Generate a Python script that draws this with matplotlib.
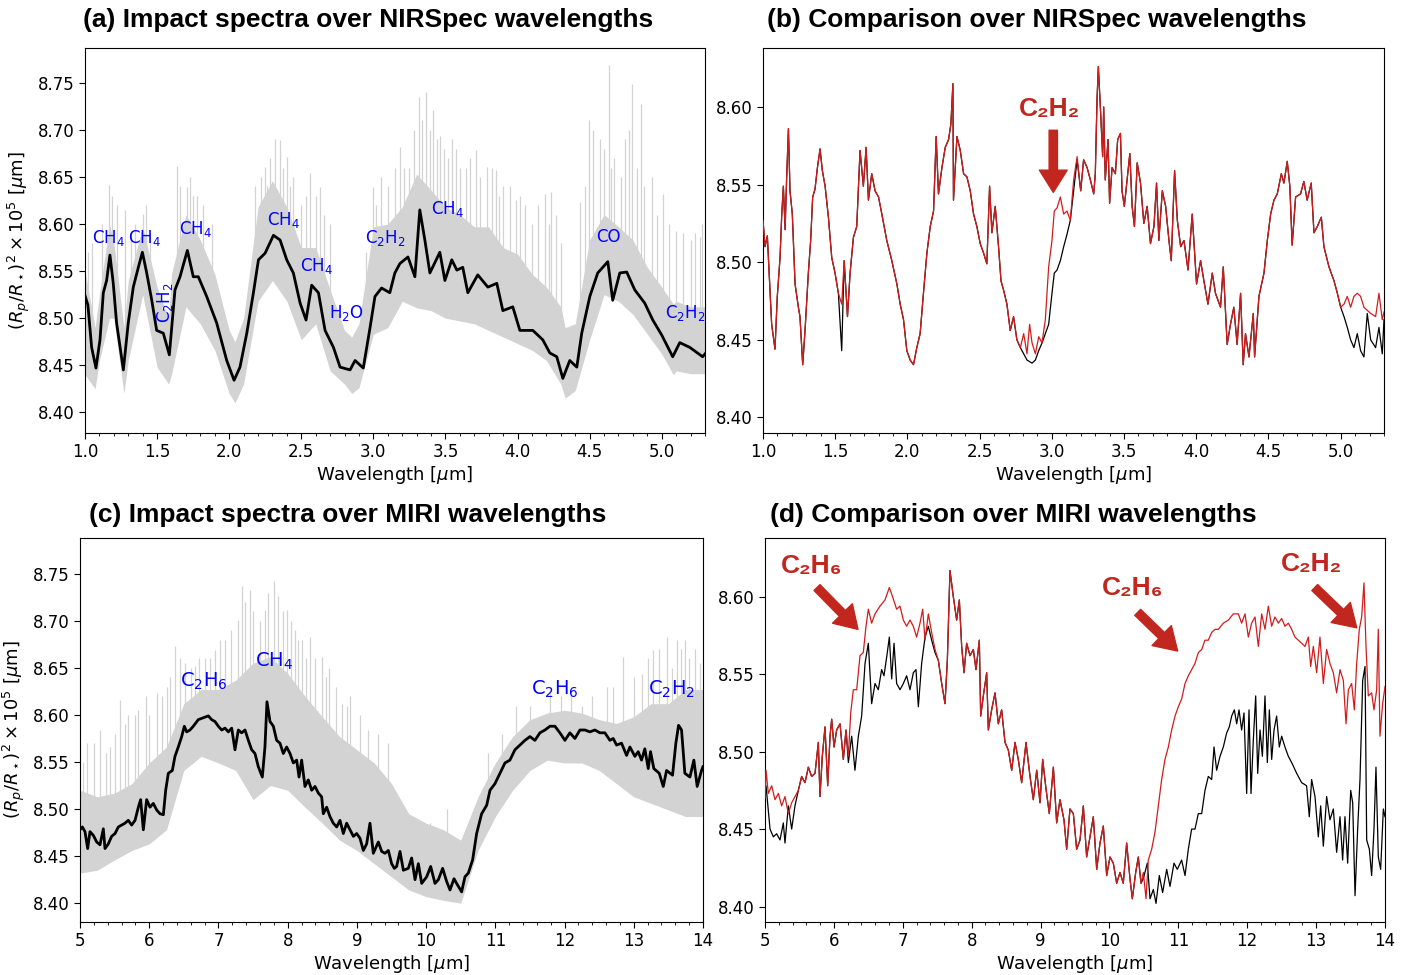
import numpy as np
import matplotlib
matplotlib.use("Agg")
import matplotlib.pyplot as plt
from matplotlib.ticker import MultipleLocator

# ---------------- (a) NIRSpec impact spectrum ----------------
wl_a = [1.0, 1.02, 1.046, 1.076, 1.104, 1.127, 1.15, 1.173, 1.196, 1.219, 1.266, 1.3, 1.335,
        1.37, 1.398, 1.428, 1.463, 1.497, 1.543, 1.585, 1.624, 1.659, 1.71, 1.751, 1.786,
        1.844, 1.913, 1.983, 2.034, 2.075, 2.122, 2.168, 2.203, 2.249, 2.307, 2.353, 2.399,
        2.445, 2.492, 2.533, 2.572, 2.619, 2.665, 2.723, 2.769, 2.838, 2.873, 2.93, 2.977,
        3.011, 3.057, 3.114, 3.149, 3.184, 3.24, 3.288, 3.322, 3.357, 3.392, 3.461, 3.496,
        3.544, 3.579, 3.62, 3.655, 3.724, 3.794, 3.856, 3.898, 3.967, 4.016, 4.106, 4.175,
        4.224, 4.272, 4.314, 4.362, 4.411, 4.445, 4.501, 4.556, 4.626, 4.66, 4.709, 4.757,
        4.813, 4.882, 4.938, 5.0, 5.076, 5.125, 5.194, 5.284, 5.3]
flux_a = [8.524, 8.514, 8.469, 8.447, 8.477, 8.527, 8.54, 8.567, 8.537, 8.495, 8.445, 8.495, 8.533,
          8.554, 8.57, 8.548, 8.519, 8.487, 8.484, 8.461, 8.53, 8.544, 8.572, 8.544, 8.544,
          8.523, 8.495, 8.455, 8.434, 8.448, 8.484, 8.527, 8.562, 8.569, 8.588, 8.583, 8.562,
          8.548, 8.516, 8.498, 8.535, 8.527, 8.487, 8.469, 8.448, 8.445, 8.455, 8.447, 8.49,
          8.523, 8.532, 8.527, 8.548, 8.558, 8.565, 8.544, 8.615, 8.583, 8.548, 8.57, 8.54,
          8.562, 8.551, 8.554, 8.527, 8.546, 8.533, 8.537, 8.508, 8.512, 8.487, 8.487, 8.477,
          8.463, 8.459, 8.436, 8.455, 8.448, 8.484, 8.523, 8.548, 8.56, 8.519, 8.548, 8.549,
          8.53, 8.516, 8.498, 8.482, 8.459, 8.474, 8.469, 8.459, 8.462]

band_wl_a = [1.0, 1.07, 1.1, 1.17, 1.2, 1.27, 1.3, 1.4, 1.5, 1.58, 1.6, 1.7, 1.8, 1.9, 2.0, 2.04,
             2.1, 2.2, 2.3, 2.4, 2.5, 2.6, 2.7, 2.8, 2.85, 2.9, 3.0, 3.1, 3.2, 3.3, 3.4, 3.5, 3.6,
             3.7, 3.8, 3.9, 4.0, 4.1, 4.2, 4.3, 4.33, 4.4, 4.5, 4.6, 4.7, 4.8, 4.9, 5.0, 5.08,
             5.1, 5.2, 5.3]
band_lo_a = [8.44, 8.425, 8.455, 8.50, 8.50, 8.42, 8.455, 8.525, 8.448, 8.43, 8.44, 8.512, 8.494,
             8.466, 8.42, 8.41, 8.43, 8.518, 8.54, 8.518, 8.477, 8.494, 8.444, 8.43, 8.42, 8.426,
             8.483, 8.49, 8.518, 8.511, 8.508, 8.50, 8.497, 8.494, 8.487, 8.48, 8.473, 8.466,
             8.455, 8.43, 8.415, 8.423, 8.477, 8.525, 8.518, 8.504, 8.483, 8.462, 8.44, 8.444,
             8.441, 8.441]
band_hi_a = [8.55, 8.49, 8.525, 8.60, 8.58, 8.49, 8.54, 8.597, 8.533, 8.50, 8.547, 8.61, 8.583,
             8.547, 8.487, 8.475, 8.50, 8.618, 8.646, 8.618, 8.575, 8.575, 8.53, 8.487, 8.48,
             8.494, 8.597, 8.60, 8.618, 8.653, 8.636, 8.618, 8.61, 8.597, 8.597, 8.575, 8.568,
             8.547, 8.533, 8.512, 8.49, 8.494, 8.583, 8.61, 8.597, 8.583, 8.554, 8.533, 8.515,
             8.518, 8.512, 8.512]

spike_wl_a = [1.05, 1.12, 1.169, 1.22, 1.277, 1.35, 1.404, 1.45, 1.635, 1.705, 1.75, 1.82, 1.88,
              2.18, 2.248, 2.28, 2.352, 2.398, 2.44, 2.5, 2.56, 2.629, 2.7, 2.95, 2.999, 3.05,
              3.184, 3.25, 3.318, 3.364, 3.415, 3.461, 3.542, 3.6, 3.711, 3.785, 3.849, 3.9,
              3.992, 4.05, 4.1, 4.189, 4.235, 4.3, 4.436, 4.496, 4.57, 4.635, 4.67, 4.744,
              4.797, 4.859, 4.93, 5.009, 5.101, 5.15, 5.205, 5.263,
              1.02, 1.19, 1.32, 1.42, 1.66, 1.73, 1.78, 2.22, 2.26, 2.32, 2.37, 2.42, 2.53, 2.6,
              2.66, 3.02, 3.1, 3.15, 3.21, 3.28, 3.34, 3.39, 3.44, 3.49, 3.52, 3.57, 3.64, 3.67,
              3.74, 3.82, 3.87, 3.95, 4.02, 4.14, 4.22, 4.27, 4.47, 4.52, 4.6, 4.65, 4.72, 4.77,
              4.83, 4.88, 4.97, 5.05, 5.23, 5.28]
spike_top_a = [8.58, 8.60, 8.641, 8.62, 8.615, 8.60, 8.611, 8.59, 8.662, 8.639, 8.63, 8.62, 8.60,
               8.64, 8.661, 8.67, 8.689, 8.671, 8.65, 8.62, 8.654, 8.639, 8.60, 8.57, 8.639, 8.65,
               8.682, 8.66, 8.735, 8.74, 8.721, 8.693, 8.69, 8.66, 8.679, 8.661, 8.657, 8.64,
               8.625, 8.62, 8.60, 8.632, 8.634, 8.58, 8.623, 8.71, 8.69, 8.769, 8.67, 8.69,
               8.749, 8.728, 8.65, 8.632, 8.593, 8.59, 8.583, 8.586,
               8.57, 8.63, 8.59, 8.62, 8.64, 8.65, 8.63, 8.65, 8.64, 8.69, 8.66, 8.64, 8.63, 8.63,
               8.61, 8.62, 8.64, 8.66, 8.66, 8.70, 8.71, 8.70, 8.69, 8.68, 8.67, 8.68, 8.66, 8.67,
               8.65, 8.66, 8.63, 8.64, 8.63, 8.62, 8.60, 8.61, 8.64, 8.70, 8.68, 8.66, 8.65, 8.70,
               8.66, 8.64, 8.61, 8.60, 8.59, 8.60]

labels_a = ["CH$_4$", "CH$_4$", "CH$_4$", "CH$_4$", "CH$_4$", "H$_2$O", "C$_2$H$_2$", "CH$_4$",
            "CO", "C$_2$H$_2$"]
label_pos_a = [(1.166, 8.585), (1.416, 8.585), (1.763, 8.595), (2.38, 8.604), (2.608, 8.555),
               (2.816, 8.505), (3.08, 8.585), (3.517, 8.616), (4.633, 8.586), (5.16, 8.505)]

# ---------------- (b) NIRSpec comparison ----------------
wl_b = [1.0, 1.014, 1.03, 1.049, 1.06, 1.083, 1.099, 1.118, 1.13, 1.141, 1.153, 1.164, 1.176,
        1.187, 1.203, 1.222, 1.245, 1.256, 1.275, 1.291, 1.314, 1.33, 1.344, 1.36, 1.377, 1.395,
        1.411, 1.43, 1.453, 1.476, 1.499, 1.522, 1.545, 1.562, 1.585, 1.603, 1.626, 1.649,
        1.672, 1.695, 1.714, 1.73, 1.753, 1.776, 1.8, 1.823, 1.857, 1.892, 1.927, 1.95, 1.973,
        1.996, 2.019, 2.042, 2.065, 2.088, 2.111, 2.135, 2.158, 2.181, 2.199, 2.215, 2.239,
        2.262, 2.285, 2.301, 2.315, 2.319, 2.343, 2.366, 2.389, 2.412, 2.435, 2.458, 2.481,
        2.504, 2.527, 2.55, 2.569, 2.585, 2.608, 2.631, 2.648, 2.666, 2.689, 2.712, 2.735,
        2.758, 2.782, 2.805, 2.828, 2.846, 2.863, 2.886, 2.909, 2.932, 2.955, 2.978, 3.001,
        3.017, 3.036, 3.059, 3.082, 3.105, 3.128, 3.151, 3.175, 3.2, 3.22, 3.244, 3.267, 3.29,
        3.301, 3.313, 3.322, 3.336, 3.352, 3.359, 3.37, 3.389, 3.4, 3.417, 3.44, 3.456, 3.475,
        3.486, 3.502, 3.521, 3.54, 3.556, 3.572, 3.591, 3.614, 3.637, 3.66, 3.683, 3.707,
        3.725, 3.741, 3.765, 3.788, 3.811, 3.827, 3.85, 3.869, 3.892, 3.915, 3.943, 3.972,
        4.002, 4.03, 4.053, 4.081, 4.111, 4.133, 4.168, 4.187, 4.214, 4.237, 4.26, 4.283,
        4.307, 4.325, 4.341, 4.365, 4.395, 4.404, 4.434, 4.469, 4.492, 4.515, 4.538, 4.561,
        4.589, 4.607, 4.63, 4.648, 4.664, 4.688, 4.722, 4.745, 4.768, 4.796, 4.815, 4.838,
        4.866, 4.884, 4.919, 4.954, 4.977, 5.0, 5.023, 5.046, 5.069, 5.092, 5.115, 5.138,
        5.161, 5.184, 5.208, 5.242, 5.265, 5.288, 5.3]
red_b = [8.527, 8.51, 8.517, 8.48, 8.46, 8.444, 8.478, 8.503, 8.531, 8.549, 8.521, 8.555, 8.586,
         8.546, 8.531, 8.486, 8.471, 8.465, 8.434, 8.456, 8.493, 8.514, 8.542, 8.547, 8.561, 8.573,
         8.559, 8.549, 8.529, 8.503, 8.493, 8.48, 8.473, 8.501, 8.465, 8.493, 8.516, 8.523,
         8.572, 8.549, 8.574, 8.54, 8.557, 8.546, 8.542, 8.531, 8.514, 8.501, 8.486, 8.473, 8.463,
         8.443, 8.437, 8.434, 8.445, 8.454, 8.48, 8.506, 8.523, 8.533, 8.581, 8.544, 8.561,
         8.574, 8.579, 8.589, 8.615, 8.54, 8.581, 8.572, 8.557, 8.555, 8.546, 8.531, 8.523,
         8.512, 8.506, 8.499, 8.549, 8.519, 8.536, 8.51, 8.488, 8.482, 8.473, 8.456, 8.465,
         8.45, 8.445, 8.454, 8.441, 8.46, 8.448, 8.441, 8.452, 8.448, 8.463, 8.497, 8.514,
         8.533, 8.535, 8.542, 8.531, 8.533, 8.527, 8.553, 8.568, 8.546, 8.566, 8.561, 8.553, 8.544,
         8.557, 8.605, 8.626, 8.6, 8.568, 8.6, 8.553, 8.579, 8.538, 8.561, 8.557, 8.579, 8.583,
         8.546, 8.536, 8.553, 8.57, 8.536, 8.523, 8.564, 8.551, 8.525, 8.536, 8.512, 8.523,
         8.551, 8.514, 8.546, 8.536, 8.514, 8.501, 8.559, 8.527, 8.51, 8.514, 8.495, 8.531,
         8.486, 8.501, 8.488, 8.473, 8.493, 8.48, 8.471, 8.497, 8.447, 8.46, 8.471, 8.447,
         8.48, 8.434, 8.454, 8.439, 8.467, 8.439, 8.478, 8.493, 8.514, 8.531, 8.54, 8.544,
         8.557, 8.551, 8.565, 8.549, 8.511, 8.542, 8.544, 8.552, 8.54, 8.551, 8.519, 8.523,
         8.529, 8.51, 8.497, 8.488, 8.48, 8.471, 8.473, 8.478, 8.471, 8.478, 8.48, 8.478,
         8.471, 8.469, 8.467, 8.465, 8.48, 8.463, 8.468]
black_b = [8.527, 8.51, 8.517, 8.48, 8.46, 8.444, 8.478, 8.503, 8.531, 8.549, 8.521, 8.555, 8.586,
           8.546, 8.531, 8.486, 8.471, 8.465, 8.434, 8.456, 8.493, 8.514, 8.542, 8.547, 8.561, 8.573,
           8.559, 8.549, 8.529, 8.503, 8.493, 8.48, 8.443, 8.501, 8.465, 8.493, 8.516, 8.523,
           8.572, 8.549, 8.574, 8.54, 8.557, 8.546, 8.542, 8.531, 8.514, 8.501, 8.486, 8.473, 8.463,
           8.443, 8.437, 8.434, 8.445, 8.454, 8.48, 8.506, 8.523, 8.533, 8.581, 8.544, 8.561,
           8.574, 8.579, 8.589, 8.615, 8.54, 8.581, 8.572, 8.557, 8.555, 8.546, 8.531, 8.523,
           8.512, 8.506, 8.499, 8.549, 8.519, 8.536, 8.51, 8.488, 8.482, 8.473, 8.456, 8.465,
           8.45, 8.445, 8.441, 8.437, 8.436, 8.435, 8.437, 8.443, 8.448, 8.454, 8.46, 8.48,
           8.493, 8.495, 8.501, 8.51, 8.518, 8.527, 8.546, 8.566, 8.546, 8.566, 8.561, 8.553, 8.544,
           8.557, 8.605, 8.626, 8.6, 8.568, 8.6, 8.553, 8.579, 8.538, 8.561, 8.557, 8.579, 8.583,
           8.546, 8.536, 8.553, 8.57, 8.536, 8.523, 8.564, 8.551, 8.525, 8.536, 8.512, 8.523,
           8.551, 8.514, 8.546, 8.536, 8.514, 8.501, 8.559, 8.527, 8.51, 8.514, 8.495, 8.531,
           8.486, 8.501, 8.488, 8.473, 8.493, 8.48, 8.471, 8.497, 8.447, 8.46, 8.471, 8.447,
           8.48, 8.434, 8.454, 8.439, 8.467, 8.439, 8.478, 8.493, 8.514, 8.531, 8.54, 8.544,
           8.557, 8.551, 8.565, 8.549, 8.511, 8.542, 8.544, 8.552, 8.54, 8.551, 8.519, 8.523,
           8.529, 8.51, 8.497, 8.488, 8.48, 8.471, 8.465, 8.458, 8.45, 8.445, 8.454, 8.443,
           8.439, 8.467, 8.45, 8.445, 8.458, 8.441, 8.463]

# ---------------- (c) MIRI impact spectrum ----------------
wl_c = [5.0, 5.034, 5.072, 5.111, 5.144, 5.193, 5.241, 5.289, 5.337, 5.361, 5.409, 5.457, 5.506,
        5.554, 5.602, 5.65, 5.698, 5.746, 5.795, 5.843, 5.876, 5.915, 5.963, 6.011, 6.059, 6.108,
        6.156, 6.204, 6.238, 6.276, 6.334, 6.372, 6.42, 6.469, 6.507, 6.541, 6.589, 6.637,
        6.709, 6.782, 6.854, 6.902, 6.95, 6.998, 7.047, 7.095, 7.143, 7.191, 7.239, 7.287,
        7.335, 7.384, 7.432, 7.48, 7.528, 7.576, 7.634, 7.672, 7.701, 7.745, 7.793, 7.841,
        7.889, 7.937, 7.985, 8.034, 8.082, 8.13, 8.164, 8.202, 8.25, 8.298, 8.347, 8.395,
        8.443, 8.491, 8.515, 8.563, 8.611, 8.659, 8.708, 8.756, 8.804, 8.852, 8.9, 8.949,
        8.997, 9.045, 9.093, 9.141, 9.189, 9.237, 9.31, 9.358, 9.406, 9.454, 9.502, 9.541,
        9.574, 9.623, 9.671, 9.743, 9.791, 9.84, 9.888, 9.936, 10.008, 10.066, 10.128, 10.177,
        10.239, 10.297, 10.345, 10.403, 10.441, 10.513, 10.561, 10.61, 10.672, 10.73, 10.802,
        10.875, 10.923, 10.995, 11.067, 11.139, 11.211, 11.283, 11.356, 11.428, 11.5, 11.572,
        11.644, 11.717, 11.789, 11.861, 11.933, 12.005, 12.077, 12.15, 12.222, 12.294, 12.366,
        12.438, 12.511, 12.583, 12.655, 12.703, 12.751, 12.823, 12.896, 12.944, 13.016, 13.064,
        13.112, 13.16, 13.209, 13.242, 13.29, 13.368, 13.426, 13.474, 13.56, 13.608, 13.647,
        13.69, 13.738, 13.811, 13.868, 13.916, 13.979, 14.0]
flux_c = [8.478, 8.481, 8.476, 8.458, 8.476, 8.472, 8.465, 8.462, 8.479, 8.458, 8.463, 8.471, 8.474,
          8.481, 8.483, 8.485, 8.488, 8.483, 8.488, 8.502, 8.51, 8.478, 8.51, 8.502, 8.506, 8.499,
          8.495, 8.494, 8.52, 8.538, 8.541, 8.556, 8.566, 8.577, 8.588, 8.582, 8.584, 8.588,
          8.595, 8.597, 8.599, 8.595, 8.593, 8.588, 8.584, 8.586, 8.582, 8.586, 8.563, 8.584,
          8.581, 8.584, 8.573, 8.563, 8.559, 8.545, 8.534, 8.566, 8.614, 8.593, 8.588, 8.573,
          8.57, 8.559, 8.566, 8.559, 8.549, 8.552, 8.534, 8.552, 8.524, 8.531, 8.52, 8.524,
          8.517, 8.513, 8.495, 8.502, 8.492, 8.485, 8.481, 8.488, 8.474, 8.485, 8.478, 8.471,
          8.474, 8.469, 8.456, 8.463, 8.485, 8.453, 8.465, 8.455, 8.453, 8.456, 8.442, 8.437,
          8.439, 8.455, 8.435, 8.437, 8.448, 8.425, 8.442, 8.421, 8.428, 8.439, 8.421, 8.425,
          8.437, 8.423, 8.414, 8.426, 8.421, 8.412, 8.428, 8.432, 8.446, 8.474, 8.495,
          8.504, 8.52, 8.527, 8.538, 8.549, 8.552, 8.563, 8.568, 8.573, 8.577, 8.573,
          8.581, 8.584, 8.588, 8.588, 8.581, 8.573, 8.581, 8.575, 8.584, 8.584, 8.582,
          8.584, 8.581, 8.581, 8.573, 8.575, 8.568, 8.57, 8.557, 8.566, 8.556, 8.561,
          8.552, 8.564, 8.543, 8.561, 8.543, 8.538, 8.524, 8.541, 8.536, 8.57, 8.589,
          8.584, 8.538, 8.534, 8.552, 8.524, 8.541, 8.545]

band_wl_c = [5.0, 5.25, 5.5, 5.75, 6.0, 6.25, 6.5, 6.75, 7.0, 7.25, 7.5, 7.75, 8.0, 8.25, 8.5,
             8.75, 9.0, 9.25, 9.5, 9.75, 10.0, 10.25, 10.5, 10.75, 11.0, 11.25, 11.5, 11.75,
             12.0, 12.25, 12.5, 12.75, 13.0, 13.25, 13.5, 13.75, 14.0]
band_lo_c = [8.432, 8.435, 8.446, 8.456, 8.463, 8.478, 8.541, 8.556, 8.549, 8.541, 8.51, 8.525,
             8.52, 8.502, 8.485, 8.467, 8.456, 8.442, 8.428, 8.414, 8.407, 8.403, 8.40, 8.456,
             8.492, 8.52, 8.541, 8.552, 8.549, 8.549, 8.541, 8.527, 8.513, 8.506, 8.499, 8.492,
             8.492]
band_hi_c = [8.52, 8.513, 8.517, 8.527, 8.549, 8.566, 8.612, 8.627, 8.627, 8.637, 8.655, 8.662,
             8.644, 8.62, 8.598, 8.577, 8.563, 8.549, 8.527, 8.495, 8.485, 8.478, 8.467, 8.513,
             8.549, 8.577, 8.595, 8.602, 8.605, 8.602, 8.595, 8.591, 8.598, 8.612, 8.612, 8.627,
             8.627]

spike_wl_c = [5.1, 5.289, 5.433, 5.578, 5.7, 5.843, 6.0, 6.108, 6.25, 6.372, 6.517, 6.661, 6.8,
              6.95, 7.1, 7.287, 7.335, 7.456, 7.6, 7.672, 7.807, 7.865, 7.985, 8.106, 8.2, 8.322,
              8.491, 8.6, 8.78, 8.9, 9.165, 9.3, 9.454, 9.526, 10.056, 10.3, 10.9, 11.3, 11.79,
              12.1, 12.4, 12.608, 12.849, 13.0, 13.114, 13.282, 13.475, 13.619, 13.739, 13.8,
              13.955,
              5.05, 5.2, 5.38, 5.5, 5.65, 5.8, 5.95, 6.18, 6.3, 6.45, 6.6, 6.72, 6.88, 7.02,
              7.18, 7.38, 7.5, 7.72, 7.93, 8.05, 8.15, 8.27, 8.4, 8.55, 8.7, 8.85, 9.05, 11.1,
              11.5, 11.95, 12.25, 12.7, 13.2, 13.37, 13.55, 13.68, 13.88]
spike_top_c = [8.57, 8.584, 8.566, 8.616, 8.60, 8.605, 8.60, 8.623, 8.63, 8.673, 8.655, 8.652, 8.66,
               8.669, 8.68, 8.701, 8.737, 8.733, 8.70, 8.712, 8.742, 8.726, 8.712, 8.69, 8.68,
               8.683, 8.662, 8.65, 8.612, 8.62, 8.584, 8.58, 8.57, 8.513, 8.485, 8.50, 8.56, 8.61,
               8.63, 8.62, 8.62, 8.63, 8.662, 8.64, 8.644, 8.669, 8.683, 8.68, 8.68, 8.66, 8.655,
               8.55, 8.57, 8.56, 8.58, 8.59, 8.60, 8.62, 8.62, 8.64, 8.66, 8.65, 8.66, 8.66, 8.68,
               8.69, 8.72, 8.71, 8.73, 8.71, 8.70, 8.68, 8.66, 8.66, 8.64, 8.63, 8.61, 8.60, 8.58,
               8.61, 8.62, 8.61, 8.63, 8.66, 8.67, 8.65, 8.67, 8.67]

labels_c = ["C$_2$H$_6$", "CH$_4$", "C$_2$H$_6$", "C$_2$H$_2$"]
label_pos_c = [(6.79, 8.636), (7.80, 8.657), (11.86, 8.627), (13.55, 8.627)]

# ---------------- (d) MIRI comparison ----------------
wl_d = [5.0, 5.015, 5.048, 5.097, 5.145, 5.194, 5.242, 5.29, 5.339, 5.387, 5.435, 5.484, 5.532,
        5.581, 5.629, 5.677, 5.726, 5.774, 5.798, 5.832, 5.871, 5.91, 5.944, 5.968, 6.002, 6.04,
        6.089, 6.137, 6.176, 6.21, 6.244, 6.282, 6.331, 6.379, 6.427, 6.466, 6.5, 6.548, 6.597,
        6.669, 6.742, 6.805, 6.853, 6.911, 6.96, 7.008, 7.056, 7.105, 7.153, 7.201, 7.25,
        7.289, 7.323, 7.371, 7.419, 7.468, 7.516, 7.565, 7.613, 7.647, 7.685, 7.734, 7.782,
        7.821, 7.855, 7.889, 7.927, 7.976, 8.024, 8.063, 8.111, 8.131, 8.169, 8.218, 8.242,
        8.29, 8.339, 8.387, 8.435, 8.484, 8.532, 8.581, 8.629, 8.677, 8.726, 8.789, 8.847,
        8.895, 8.944, 8.992, 9.031, 9.079, 9.127, 9.186, 9.234, 9.282, 9.34, 9.379, 9.427,
        9.476, 9.524, 9.573, 9.621, 9.669, 9.718, 9.766, 9.815, 9.863, 9.911, 9.96, 10.008,
        10.056, 10.105, 10.153, 10.201, 10.25, 10.298, 10.332, 10.381, 10.419, 10.458, 10.492,
        10.531, 10.564, 10.613, 10.661, 10.71, 10.758, 10.806, 10.855, 10.903, 10.952, 11.0,
        11.048, 11.097, 11.145, 11.193, 11.242, 11.29, 11.339, 11.387, 11.435, 11.484, 11.532,
        11.58, 11.653, 11.726, 11.798, 11.871, 11.919, 11.968, 12.016, 12.064, 12.113, 12.161,
        12.21, 12.258, 12.306, 12.355, 12.403, 12.452, 12.5, 12.548, 12.597, 12.645, 12.693,
        12.742, 12.79, 12.839, 12.887, 12.921, 12.96, 13.008, 13.056, 13.105, 13.153, 13.201,
        13.25, 13.298, 13.347, 13.395, 13.434, 13.468, 13.516, 13.555, 13.589, 13.627, 13.661,
        13.695, 13.724, 13.758, 13.806, 13.84, 13.879, 13.903, 13.927, 13.966, 14.0]
red_d = [8.47, 8.488, 8.473, 8.478, 8.469, 8.473, 8.465, 8.471, 8.46, 8.467, 8.471, 8.475, 8.484,
         8.48, 8.49, 8.484, 8.486, 8.506, 8.471, 8.497, 8.516, 8.478, 8.51, 8.521, 8.503, 8.514,
         8.518, 8.495, 8.514, 8.497, 8.525, 8.54, 8.54, 8.562, 8.564, 8.581, 8.592, 8.583, 8.589,
         8.594, 8.598, 8.606, 8.6, 8.592, 8.594, 8.585, 8.581, 8.585, 8.581, 8.574, 8.583,
         8.592, 8.572, 8.589, 8.577, 8.566, 8.559, 8.544, 8.531, 8.559, 8.617, 8.6, 8.585,
         8.598, 8.568, 8.551, 8.57, 8.562, 8.566, 8.553, 8.572, 8.523, 8.536, 8.551, 8.514,
         8.527, 8.538, 8.518, 8.527, 8.506, 8.501, 8.488, 8.506, 8.495, 8.48, 8.506, 8.484,
         8.469, 8.488, 8.467, 8.495, 8.476, 8.46, 8.49, 8.454, 8.469, 8.456, 8.437, 8.463,
         8.46, 8.437, 8.443, 8.465, 8.432, 8.445, 8.458, 8.424, 8.441, 8.452, 8.42, 8.432,
         8.428, 8.415, 8.422, 8.415, 8.441, 8.418, 8.405, 8.422, 8.432, 8.415, 8.422,
         8.405, 8.43, 8.437, 8.448, 8.465, 8.482, 8.495, 8.503, 8.514, 8.523, 8.529,
         8.534, 8.544, 8.549, 8.553, 8.557, 8.564, 8.566, 8.572, 8.572, 8.577, 8.579,
         8.579, 8.583, 8.585, 8.589, 8.589, 8.583, 8.589, 8.574, 8.583, 8.587, 8.568,
         8.589, 8.579, 8.594, 8.581, 8.587, 8.583, 8.586, 8.581, 8.583, 8.579, 8.574,
         8.572, 8.57, 8.568, 8.574, 8.555, 8.568, 8.551, 8.574, 8.544, 8.566, 8.557,
         8.551, 8.538, 8.553, 8.546, 8.518, 8.54, 8.544, 8.527, 8.557, 8.579, 8.587,
         8.609, 8.568, 8.536, 8.538, 8.527, 8.54, 8.579, 8.51, 8.531, 8.542]

wl_d_black = [5.0, 5.015, 5.073, 5.121, 5.169, 5.218, 5.266, 5.29, 5.339, 5.387, 5.435, 5.484,
              5.532, 5.581, 5.629, 5.677, 5.726, 5.774, 5.798, 5.832, 5.871, 5.91, 5.944, 5.968,
              6.002, 6.04, 6.089, 6.137, 6.176, 6.21, 6.258, 6.306, 6.355, 6.403, 6.452, 6.5,
              6.548, 6.597, 6.645, 6.693, 6.727, 6.766, 6.805, 6.839, 6.873, 6.911, 6.96, 7.008,
              7.056, 7.105, 7.153, 7.192, 7.226, 7.274, 7.323, 7.371, 7.419, 7.468, 7.516, 7.565,
              7.613, 7.647, 7.685, 7.734, 7.782, 7.821, 7.855, 7.889, 7.927, 7.976, 8.024, 8.063,
              8.111, 8.131, 8.169, 8.218, 8.242, 8.29, 8.339, 8.387, 8.435, 8.484, 8.532, 8.581,
              8.629, 8.677, 8.726, 8.789, 8.847, 8.895, 8.944, 8.992, 9.031, 9.079, 9.127, 9.186,
              9.234, 9.282, 9.34, 9.379, 9.427, 9.476, 9.524, 9.573, 9.621, 9.669, 9.718, 9.766,
              9.815, 9.863, 9.911, 9.96, 10.008, 10.056, 10.105, 10.153, 10.201, 10.25, 10.298,
              10.332, 10.381, 10.419, 10.458, 10.492, 10.55, 10.589, 10.637, 10.676, 10.724,
              10.772, 10.831, 10.879, 10.937, 10.985, 11.048, 11.097, 11.145, 11.193, 11.242,
              11.29, 11.339, 11.387, 11.435, 11.484, 11.518, 11.556, 11.605, 11.653, 11.701,
              11.74, 11.774, 11.813, 11.847, 11.881, 11.919, 11.953, 11.992, 12.026, 12.055,
              12.089, 12.123, 12.152, 12.186, 12.22, 12.258, 12.292, 12.321, 12.355, 12.389,
              12.427, 12.466, 12.5, 12.548, 12.597, 12.645, 12.718, 12.79, 12.862, 12.901,
              12.935, 12.984, 13.032, 13.066, 13.105, 13.153, 13.201, 13.25, 13.298, 13.347,
              13.385, 13.419, 13.458, 13.502, 13.531, 13.565, 13.603, 13.637, 13.676, 13.71,
              13.734, 13.773, 13.806, 13.84, 13.869, 13.903, 13.937, 13.976, 14.0]
black_d = [8.47, 8.478, 8.45, 8.445, 8.447, 8.443, 8.454, 8.441, 8.465, 8.45, 8.465, 8.475,
           8.484, 8.48, 8.49, 8.484, 8.486, 8.506, 8.471, 8.497, 8.516, 8.478, 8.51, 8.521,
           8.503, 8.514, 8.518, 8.495, 8.514, 8.493, 8.51, 8.488, 8.51, 8.523, 8.557, 8.57,
           8.531, 8.544, 8.54, 8.553, 8.549, 8.561, 8.574, 8.547, 8.57, 8.544, 8.54, 8.544,
           8.549, 8.54, 8.551, 8.553, 8.529, 8.557, 8.574, 8.581, 8.572, 8.564, 8.559, 8.544,
           8.531, 8.559, 8.617, 8.6, 8.585, 8.598, 8.568, 8.551, 8.57, 8.562, 8.566, 8.553,
           8.572, 8.523, 8.536, 8.551, 8.514, 8.527, 8.538, 8.518, 8.527, 8.506, 8.501, 8.488,
           8.506, 8.495, 8.48, 8.506, 8.484, 8.469, 8.488, 8.467, 8.495, 8.476, 8.46, 8.49,
           8.454, 8.469, 8.456, 8.437, 8.463, 8.46, 8.437, 8.443, 8.465, 8.432, 8.445, 8.458,
           8.424, 8.441, 8.452, 8.42, 8.432, 8.428, 8.415, 8.422, 8.415, 8.441, 8.418,
           8.405, 8.422, 8.432, 8.415, 8.418, 8.428, 8.405, 8.411, 8.402, 8.42,
           8.409, 8.424, 8.413, 8.428, 8.424, 8.43, 8.42, 8.437, 8.45, 8.45,
           8.46, 8.46, 8.475, 8.484, 8.482, 8.503, 8.488, 8.497, 8.503, 8.512,
           8.516, 8.523, 8.527, 8.518, 8.527, 8.514, 8.525, 8.473, 8.527, 8.473,
           8.508, 8.536, 8.486, 8.514, 8.497, 8.536, 8.493, 8.527, 8.495, 8.514,
           8.523, 8.503, 8.51, 8.503, 8.497, 8.493, 8.486, 8.48, 8.478, 8.458,
           8.482, 8.471, 8.445, 8.465, 8.439, 8.471, 8.456, 8.463, 8.435, 8.458,
           8.43, 8.458, 8.428, 8.475, 8.467, 8.407, 8.45, 8.482, 8.546, 8.555,
           8.443, 8.437, 8.42, 8.45, 8.49, 8.432, 8.424, 8.463, 8.458]

# ---------------- styling ----------------
plt.rcParams['font.family'] = ['DejaVu Sans']
GRAY = '#d3d3d3'
RED = '#d21c1c'
ANNOT = '#c2271f'
TITLE_FONT = ['Liberation Sans', 'DejaVu Sans']

W, H = 1413, 975
fig = plt.figure(figsize=(W / 100, H / 100), dpi=100)


def px_axes(l, t, r, b):
    return fig.add_axes([l / W, 1 - b / H, (r - l) / W, (b - t) / H])


ax_a = px_axes(85, 48, 705, 433)
ax_b = px_axes(763, 48, 1384, 433)
ax_c = px_axes(80, 538, 703, 922)
ax_d = px_axes(765, 538, 1385, 922)

ylabel = r'$(R_p/R_\star)^2 \times 10^5$ [$\mu$m]'
xlabel = r'Wavelength [$\mu$m]'


def spikes(ax, band_wl, band_hi, sx, stop):
    base = np.interp(sx, band_wl, band_hi)
    ax.vlines(sx, base - 0.02, stop, color=GRAY, lw=0.9, zorder=1)


# (a)
ax_a.fill_between(band_wl_a, band_lo_a, band_hi_a, color=GRAY, lw=0, zorder=1)
spikes(ax_a, band_wl_a, band_hi_a, spike_wl_a, spike_top_a)
ax_a.plot(wl_a, flux_a, color='black', lw=2.0, zorder=3)
for txt, (x, y) in zip(labels_a, label_pos_a):
    ax_a.text(x, y, txt, color='blue', fontsize=12, ha='center', va='center', zorder=4)
ax_a.text(1.555, 8.516, "C$_2$H$_2$", color='blue', fontsize=12, ha='center', va='center',
          rotation=90, zorder=4)
ax_a.set_xlim(1.0, 5.3)
ax_a.set_ylim(8.378, 8.787)
ax_a.xaxis.set_major_locator(MultipleLocator(0.5))
ax_a.xaxis.set_minor_locator(MultipleLocator(0.1))
ax_a.yaxis.set_major_locator(MultipleLocator(0.05))
ax_a.set_ylabel(ylabel, fontsize=13)
ax_a.set_xlabel(xlabel, fontsize=13, labelpad=2)

# (b)
ax_b.plot(wl_b, black_b, color='black', lw=0.9, zorder=2)
ax_b.plot(wl_b, red_b, color=RED, lw=0.9, zorder=3)
ax_b.set_xlim(1.0, 5.3)
ax_b.set_ylim(8.39, 8.638)
ax_b.xaxis.set_major_locator(MultipleLocator(0.5))
ax_b.xaxis.set_minor_locator(MultipleLocator(0.1))
ax_b.yaxis.set_major_locator(MultipleLocator(0.05))
ax_b.set_xlabel(xlabel, fontsize=13, labelpad=2)

# (c)
ax_c.fill_between(band_wl_c, band_lo_c, band_hi_c, color=GRAY, lw=0, zorder=1)
spikes(ax_c, band_wl_c, band_hi_c, spike_wl_c, spike_top_c)
ax_c.plot(wl_c, flux_c, color='black', lw=2.0, zorder=3)
for txt, (x, y) in zip(labels_c, label_pos_c):
    ax_c.text(x, y, txt, color='blue', fontsize=14, ha='center', va='center', zorder=4)
ax_c.set_xlim(5, 14)
ax_c.set_ylim(8.38, 8.788)
ax_c.xaxis.set_major_locator(MultipleLocator(1))
ax_c.xaxis.set_minor_locator(MultipleLocator(0.2))
ax_c.yaxis.set_major_locator(MultipleLocator(0.05))
ax_c.set_ylabel(ylabel, fontsize=13)
ax_c.set_xlabel(xlabel, fontsize=13, labelpad=2)

# (d)
ax_d.plot(wl_d_black, black_d, color='black', lw=0.9, zorder=2)
ax_d.plot(wl_d, red_d, color=RED, lw=0.9, zorder=3)
ax_d.set_xlim(5, 14)
ax_d.set_ylim(8.39, 8.638)
ax_d.xaxis.set_major_locator(MultipleLocator(1))
ax_d.xaxis.set_minor_locator(MultipleLocator(0.2))
ax_d.yaxis.set_major_locator(MultipleLocator(0.05))
ax_d.set_xlabel(xlabel, fontsize=13, labelpad=2)

for ax in (ax_a, ax_b, ax_c, ax_d):
    ax.tick_params(which='major', length=4, labelsize=12)
    ax.tick_params(which='minor', length=2.5)


# red callouts with chunky arrows
def callout(ax, text, text_xy, tail, head):
    ax.text(*text_xy, text, color=ANNOT, fontsize=19, fontweight='bold', family=TITLE_FONT,
            ha='center', va='center', zorder=5)
    ax.annotate('', xy=head, xytext=tail, zorder=5,
                arrowprops=dict(arrowstyle='simple,head_length=0.8,head_width=1.0,tail_width=0.3',
                                color=ANNOT, mutation_scale=20, shrinkA=0, shrinkB=0))


callout(ax_b, 'C₂H₂', (2.983, 8.599), (3.01, 8.585), (3.01, 8.545))
callout(ax_d, 'C₂H₆', (5.68, 8.62), (5.755, 8.606), (6.35, 8.579))
callout(ax_d, 'C₂H₆', (10.34, 8.606), (10.41, 8.59), (10.99, 8.565))
callout(ax_d, 'C₂H₂', (12.93, 8.621), (12.98, 8.606), (13.59, 8.58))

# panel titles
titles = ["(a) Impact spectra over NIRSpec wavelengths", "(b) Comparison over NIRSpec wavelengths",
          "(c) Impact spectra over MIRI wavelengths", "(d) Comparison over MIRI wavelengths"]
title_xy = [(83, 20), (767, 20), (89, 515), (770, 515)]
for t, (x, y) in zip(titles, title_xy):
    fig.text(x / W, 1 - y / H, t, fontsize=19, fontweight='bold', family=TITLE_FONT,
             ha='left', va='center')

fig.savefig('out.png', dpi=100)
